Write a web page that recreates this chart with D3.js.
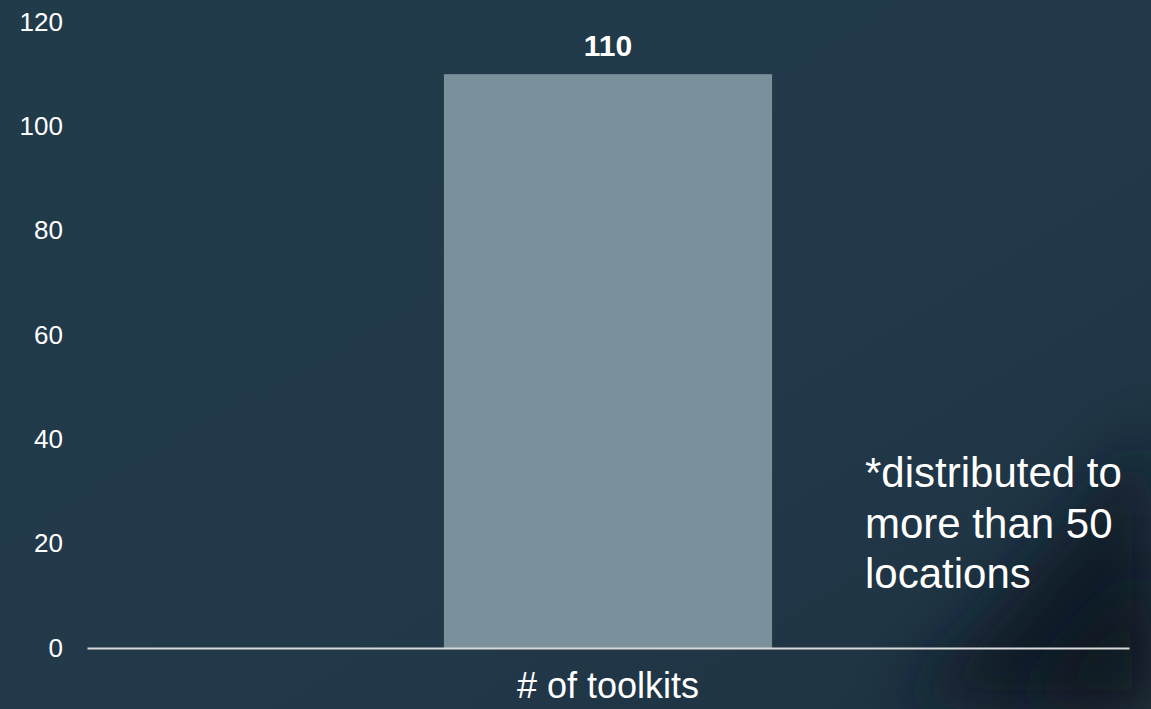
<!DOCTYPE html>
<html>
<head>
<meta charset="utf-8">
<script src="https://cdn.jsdelivr.net/npm/d3@7"></script>
<style>
  html, body { margin: 0; padding: 0; background: #223a49; }
  svg { display: block; }
  text { font-family: Arial, "Liberation Sans", sans-serif; fill: #ffffff; }
</style>
</head>
<body>
<svg id="chart" width="1151" height="709"></svg>
<script>
const categories = ["# of toolkits"];
const values = [110];
const yTicks = [0, 20, 40, 60, 80, 100, 120];
const noteLines = ["*distributed to", "more than 50", "locations"];

const W = 1151, H = 709;
const svg = d3.select("#chart");

// background
const defs = svg.append("defs");
const bg = defs.append("linearGradient").attr("id", "bg").attr("x1", 0).attr("y1", 0).attr("x2", 1).attr("y2", 1);
bg.append("stop").attr("offset", "0%").attr("stop-color", "#213b4a");
bg.append("stop").attr("offset", "60%").attr("stop-color", "#22394a");
bg.append("stop").attr("offset", "100%").attr("stop-color", "#1d3240");
svg.append("rect").attr("width", W).attr("height", H).attr("fill", "url(#bg)");

const blur = defs.append("filter").attr("id", "blur").attr("x", "-50%").attr("y", "-50%").attr("width", "200%").attr("height", "200%");
blur.append("feGaussianBlur").attr("stdDeviation", 28);
// dark brush stroke, bottom right
svg.append("path")
  .attr("d", "M 900 709 L 1151 430 L 1151 709 Z")
  .attr("fill", "#0b1720").attr("opacity", 0.75).attr("filter", "url(#blur)");
svg.append("path")
  .attr("d", "M 1010 709 L 1151 560 L 1151 709 Z")
  .attr("fill", "#08121a").attr("opacity", 0.6).attr("filter", "url(#blur)");

const x = d3.scaleBand().domain(categories).range([87, 1129]).paddingInner(0.521).paddingOuter(0.521);
const y = d3.scaleLinear().domain([0, 120]).range([648, 22]);

// y tick labels
const yAxis = svg.append("g").attr("transform", "translate(63,0)")
  .call(d3.axisLeft(y).tickValues(yTicks).tickSize(0).tickPadding(0));
yAxis.select(".domain").remove();
yAxis.selectAll("text").attr("fill", "#ffffff").style("font-size", "26px")
  .style("font-family", "Arial, 'Liberation Sans', sans-serif");

// bars
svg.selectAll("rect.bar").data(values).enter().append("rect")
  .attr("class", "bar")
  .attr("x", (d, i) => x(categories[i]))
  .attr("y", d => y(d))
  .attr("width", x.bandwidth())
  .attr("height", d => y(0) - y(d))
  .attr("fill", "#7a909b");

// value labels
svg.selectAll("text.val").data(values).enter().append("text")
  .attr("class", "val")
  .attr("x", (d, i) => x(categories[i]) + x.bandwidth() / 2)
  .attr("y", d => y(d) - 18)
  .attr("text-anchor", "middle")
  .style("font-size", "30px").style("font-weight", "bold")
  .text(d => d);

// x axis
const xAxis = svg.append("g").attr("transform", `translate(0,${y(0)})`)
  .call(d3.axisBottom(x).tickSize(0).tickPadding(0));
xAxis.select(".domain").attr("stroke", "#d9d9d9").attr("stroke-width", 2);
xAxis.selectAll("text").attr("fill", "#ffffff").attr("dy", null).attr("y", 50)
  .style("font-size", "36px").style("font-family", "Arial, 'Liberation Sans', sans-serif");

// annotation
const note = svg.append("text").attr("x", 865).attr("y", 487).style("font-size", "42px");
note.selectAll("tspan").data(noteLines).enter().append("tspan")
  .attr("x", 865).attr("dy", (d, i) => i === 0 ? 0 : 50.5).text(d => d);
</script>
</body>
</html>
